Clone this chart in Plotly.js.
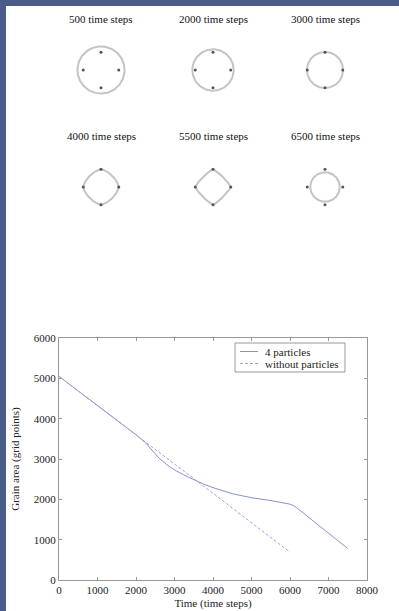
<!DOCTYPE html>
<html><head><meta charset="utf-8">
<script src="https://cdn.plot.ly/plotly-3.0.1.min.js"></script>
<style>html,body{margin:0;padding:0;background:#fff;overflow:hidden;} #chart{width:399px;height:611px;}</style>
</head><body><div id="chart"></div>
<script>
// ---- snapshot panels (grain shape at several times) ----
const snapshotLabels = ["500 time steps", "2000 time steps", "3000 time steps",
                        "4000 time steps", "5500 time steps", "6500 time steps"];
const grainRadius = [38.5, 33.8, 29.5, 29, 29, 24.1];      // grid units (half-diagonal)
const grainShapeExponent = [2, 2, 2, 1.5, 1.2, 2];        // 2 = circle, ->1 = diamond
const particleX = [0, -29, 29, 0];                         // particle positions, grid units
const particleY = [29, 0, 0, -29];

// ---- grain area vs time ----
const seriesNames = ["4 particles", "without particles"];
const timeWith = [0, 500, 1000, 1500, 2000, 2250, 2400, 2600, 2800, 3000, 3250, 3500, 3750, 4000, 4250, 4500, 5000, 5500, 6000, 6100, 6200, 6500, 7000, 7500];
const areaWith = [5050, 4690, 4330, 3960, 3600, 3400, 3230, 3020, 2860, 2730, 2600, 2480, 2380, 2290, 2210, 2140, 2040, 1970, 1880, 1840, 1770, 1540, 1160, 780];
const timeWithout = [0, 1000, 2000, 3000, 4000, 5000, 6000];
const areaWithout = [5050, 4330, 3600, 2870, 2150, 1420, 690];

const xTickVals = [0, 1000, 2000, 3000, 4000, 5000, 6000, 7000, 8000];
const yTickVals = [0, 1000, 2000, 3000, 4000, 5000, 6000];

const W = 399, H = 611;
const serif = '"Liberation Serif", "Times New Roman", Times, serif';
const solidColor = "#8a8fd2", dashColor = "#9ea2da";

function boundary(a, p) {
  const xs = [], ys = [];
  const n = 180;
  for (let i = 0; i <= n; i++) {
    const t = 2 * Math.PI * i / n;
    const c = Math.cos(t), s = Math.sin(t);
    xs.push(a * Math.sign(c) * Math.pow(Math.abs(c), 2 / p));
    ys.push(a * Math.sign(s) * Math.pow(Math.abs(s), 2 / p));
  }
  return [xs, ys];
}

const centers = [[101, 70], [213, 70], [325, 70], [101, 187], [213, 187], [325, 187]];
const traces = [];
const layout = {
  width: W, height: H,
  margin: {l: 0, r: 0, t: 0, b: 0},
  paper_bgcolor: "#fff", plot_bgcolor: "#fff",
  showlegend: false,
  annotations: [], shapes: [],
  font: {family: serif, color: "#222", size: 11}
};

snapshotLabels.forEach((lab, i) => {
  const k = i + 2;
  const [cx, cy] = centers[i];
  const [bx, by] = boundary(grainRadius[i], grainShapeExponent[i]);
  traces.push({x: bx, y: by, xaxis: "x" + k, yaxis: "y" + k, mode: "lines",
    line: {color: "#c4c4c4", width: 2}, showlegend: false, hoverinfo: "skip"});
  traces.push({x: particleX, y: particleY, xaxis: "x" + k, yaxis: "y" + k, mode: "markers",
    marker: {color: "#555", size: 3}, showlegend: false, hoverinfo: "skip"});
  const ax = {domain: [(cx - 30) / W, (cx + 30) / W], range: [-49, 49], visible: false, fixedrange: true};
  const ay = {domain: [1 - (cy + 30) / H, 1 - (cy - 30) / H], range: [-49, 49], visible: false, fixedrange: true};
  layout["xaxis" + k] = Object.assign({anchor: "y" + k}, ax);
  layout["yaxis" + k] = Object.assign({anchor: "x" + k}, ay);
  layout.annotations.push({text: lab, xref: "paper", yref: "paper", x: cx / W,
    y: 1 - (i < 3 ? 19 : 136) / H, xanchor: "center", yanchor: "middle", showarrow: false,
    font: {family: serif, size: 11, color: "#111"}});
});

traces.push({x: timeWith, y: areaWith, mode: "lines", name: seriesNames[0],
  line: {color: solidColor, width: 1}, xaxis: "x", yaxis: "y"});
traces.push({x: timeWithout, y: areaWithout, mode: "lines", name: seriesNames[1],
  line: {color: dashColor, width: 1, dash: "3px,2px"}, xaxis: "x", yaxis: "y"});

const axCommon = {showgrid: false, zeroline: false, showline: true, linecolor: "#999", linewidth: 1,
  ticks: "inside", ticklen: 3, tickcolor: "#999", mirror: "ticks",
  tickfont: {family: serif, size: 11, color: "#222"}, fixedrange: true};
layout.xaxis = Object.assign({}, axCommon, {domain: [59 / W, 367 / W], range: [0, 8000],
  tickvals: xTickVals, ticktext: xTickVals.map(String), anchor: "y",
  title: {text: "Time (time steps)", font: {family: serif, size: 11, color: "#222"}, standoff: 4}});
layout.yaxis = Object.assign({}, axCommon, {domain: [31 / H, 273 / H], range: [0, 6000],
  tickvals: yTickVals, ticktext: yTickVals.map(String), anchor: "x",
  title: {text: "Grain area (grid points)", font: {family: serif, size: 11, color: "#222"}, standoff: 11}});

// custom compact legend (box, samples, labels)
layout.shapes.push({type: "rect", xref: "paper", yref: "paper", x0: 235 / W, x1: 345 / W,
  y0: 1 - 372 / H, y1: 1 - 343 / H, line: {color: "#999", width: 1}, fillcolor: "#fff"});
layout.shapes.push({type: "line", xref: "paper", yref: "paper", x0: 240 / W, x1: 258 / W,
  y0: 1 - 351.5 / H, y1: 1 - 351.5 / H, line: {color: solidColor, width: 1}});
layout.shapes.push({type: "line", xref: "paper", yref: "paper", x0: 240 / W, x1: 258 / W,
  y0: 1 - 363.5 / H, y1: 1 - 363.5 / H, line: {color: dashColor, width: 1, dash: "3px,2px"}});
seriesNames.forEach((nm, i) => {
  layout.annotations.push({text: nm, xref: "paper", yref: "paper", x: 263 / W,
    y: 1 - (351.5 + 12 * i) / H, xanchor: "left", yanchor: "middle", showarrow: false,
    font: {family: serif, size: 11, color: "#222"}});
});

layout.shapes.push({type: "rect", xref: "paper", yref: "paper", x0: 0, x1: 6 / W, y0: 0, y1: 1,
  fillcolor: "#4a5d88", line: {width: 0}, layer: "above"});
layout.shapes.push({type: "rect", xref: "paper", yref: "paper", x0: 0, x1: 1, y0: 1 - 6 / H, y1: 1,
  fillcolor: "#4a5d88", line: {width: 0}, layer: "above"});

Plotly.newPlot("chart", traces, layout, {displayModeBar: false, staticPlot: true});
</script>
</body></html>
